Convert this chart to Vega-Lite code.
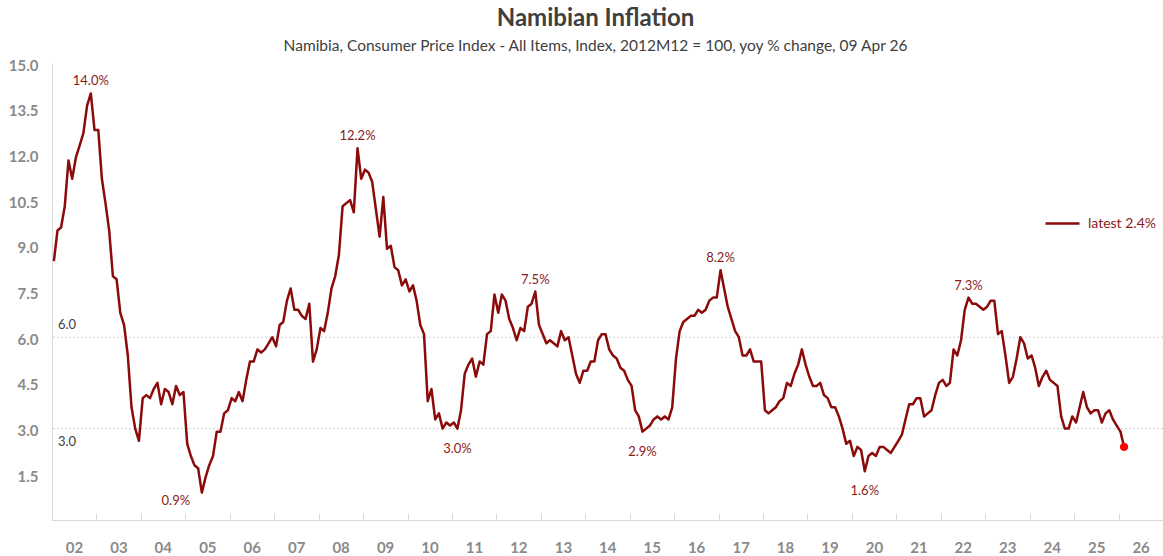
{
  "$schema": "https://vega.github.io/schema/vega-lite/v6.json",
  "width": 1111,
  "height": 457,
  "autosize": {"type": "none"},
  "padding": {"left": 52, "top": 63, "right": 0, "bottom": 36},
  "background": "white",
  "title": {
    "text": "Namibian Inflation",
    "subtitle": "Namibia, Consumer Price Index - All Items, Index, 2012M12 = 100, yoy % change, 09 Apr 26",
    "anchor": "middle",
    "dx": -12,
    "offset": 4,
    "font": "Lato",
    "fontSize": 24,
    "fontWeight": "bold",
    "color": "#404040",
    "subtitleFont": "Lato",
    "subtitleFontSize": 15.5,
    "subtitleColor": "#404040",
    "subtitlePadding": 8
  },
  "config": {
    "view": {"stroke": null},
    "font": "Lato",
    "axisX": {
      "format": "%y",
      "formatType": "utc",
      "title": null,
      "grid": false,
      "labelOffset": 22,
      "labelPadding": 27,
      "tickSize": -7,
      "tickColor": "#d9d9d9",
      "domainColor": "#d9d9d9",
      "labelFont": "Lato",
      "labelFontSize": 15,
      "labelFontWeight": "bold",
      "labelColor": "#8a8a8a",
      "labelOverlap": false,
      "labelFlush": false
    }
  },
  "datasets": {
    "cpi": [
      {"date": "2002-01", "value": 8.5}, {"date": "2002-02", "value": 9.5}, {"date": "2002-03", "value": 9.6}, {"date": "2002-04", "value": 10.3},
      {"date": "2002-05", "value": 11.8}, {"date": "2002-06", "value": 11.2}, {"date": "2002-07", "value": 11.9}, {"date": "2002-08", "value": 12.3},
      {"date": "2002-09", "value": 12.7}, {"date": "2002-10", "value": 13.6}, {"date": "2002-11", "value": 14.0}, {"date": "2002-12", "value": 12.8},
      {"date": "2003-01", "value": 12.8}, {"date": "2003-02", "value": 11.2}, {"date": "2003-03", "value": 10.4}, {"date": "2003-04", "value": 9.5},
      {"date": "2003-05", "value": 8.0}, {"date": "2003-06", "value": 7.9}, {"date": "2003-07", "value": 6.8}, {"date": "2003-08", "value": 6.4},
      {"date": "2003-09", "value": 5.4}, {"date": "2003-10", "value": 3.7}, {"date": "2003-11", "value": 3.0}, {"date": "2003-12", "value": 2.6},
      {"date": "2004-01", "value": 4.0}, {"date": "2004-02", "value": 4.1}, {"date": "2004-03", "value": 4.0}, {"date": "2004-04", "value": 4.3},
      {"date": "2004-05", "value": 4.5}, {"date": "2004-06", "value": 3.8}, {"date": "2004-07", "value": 4.3}, {"date": "2004-08", "value": 4.2},
      {"date": "2004-09", "value": 3.8}, {"date": "2004-10", "value": 4.4}, {"date": "2004-11", "value": 4.1}, {"date": "2004-12", "value": 4.2},
      {"date": "2005-01", "value": 2.5}, {"date": "2005-02", "value": 2.1}, {"date": "2005-03", "value": 1.8}, {"date": "2005-04", "value": 1.7},
      {"date": "2005-05", "value": 0.9}, {"date": "2005-06", "value": 1.4}, {"date": "2005-07", "value": 1.8}, {"date": "2005-08", "value": 2.1},
      {"date": "2005-09", "value": 2.9}, {"date": "2005-10", "value": 2.9}, {"date": "2005-11", "value": 3.5}, {"date": "2005-12", "value": 3.6},
      {"date": "2006-01", "value": 4.0}, {"date": "2006-02", "value": 3.9}, {"date": "2006-03", "value": 4.2}, {"date": "2006-04", "value": 3.9},
      {"date": "2006-05", "value": 4.6}, {"date": "2006-06", "value": 5.2}, {"date": "2006-07", "value": 5.2}, {"date": "2006-08", "value": 5.6},
      {"date": "2006-09", "value": 5.5}, {"date": "2006-10", "value": 5.6}, {"date": "2006-11", "value": 5.8}, {"date": "2006-12", "value": 6.0},
      {"date": "2007-01", "value": 5.7}, {"date": "2007-02", "value": 6.4}, {"date": "2007-03", "value": 6.5}, {"date": "2007-04", "value": 7.2},
      {"date": "2007-05", "value": 7.6}, {"date": "2007-06", "value": 6.9}, {"date": "2007-07", "value": 6.9}, {"date": "2007-08", "value": 6.7},
      {"date": "2007-09", "value": 6.6}, {"date": "2007-10", "value": 7.1}, {"date": "2007-11", "value": 5.2}, {"date": "2007-12", "value": 5.6},
      {"date": "2008-01", "value": 6.3}, {"date": "2008-02", "value": 6.2}, {"date": "2008-03", "value": 6.8}, {"date": "2008-04", "value": 7.6},
      {"date": "2008-05", "value": 8.0}, {"date": "2008-06", "value": 8.7}, {"date": "2008-07", "value": 10.3}, {"date": "2008-08", "value": 10.4},
      {"date": "2008-09", "value": 10.5}, {"date": "2008-10", "value": 10.1}, {"date": "2008-11", "value": 12.2}, {"date": "2008-12", "value": 11.2},
      {"date": "2009-01", "value": 11.5}, {"date": "2009-02", "value": 11.4}, {"date": "2009-03", "value": 11.1}, {"date": "2009-04", "value": 10.2},
      {"date": "2009-05", "value": 9.3}, {"date": "2009-06", "value": 10.6}, {"date": "2009-07", "value": 8.9}, {"date": "2009-08", "value": 9.0},
      {"date": "2009-09", "value": 8.3}, {"date": "2009-10", "value": 8.2}, {"date": "2009-11", "value": 7.7}, {"date": "2009-12", "value": 7.9},
      {"date": "2010-01", "value": 7.5}, {"date": "2010-02", "value": 7.7}, {"date": "2010-03", "value": 7.2}, {"date": "2010-04", "value": 6.4},
      {"date": "2010-05", "value": 6.1}, {"date": "2010-06", "value": 3.9}, {"date": "2010-07", "value": 4.3}, {"date": "2010-08", "value": 3.3},
      {"date": "2010-09", "value": 3.5}, {"date": "2010-10", "value": 3.0}, {"date": "2010-11", "value": 3.2}, {"date": "2010-12", "value": 3.1},
      {"date": "2011-01", "value": 3.2}, {"date": "2011-02", "value": 3.0}, {"date": "2011-03", "value": 3.6}, {"date": "2011-04", "value": 4.8},
      {"date": "2011-05", "value": 5.1}, {"date": "2011-06", "value": 5.3}, {"date": "2011-07", "value": 4.7}, {"date": "2011-08", "value": 5.2},
      {"date": "2011-09", "value": 5.1}, {"date": "2011-10", "value": 6.1}, {"date": "2011-11", "value": 6.2}, {"date": "2011-12", "value": 7.4},
      {"date": "2012-01", "value": 6.8}, {"date": "2012-02", "value": 7.4}, {"date": "2012-03", "value": 7.2}, {"date": "2012-04", "value": 6.6},
      {"date": "2012-05", "value": 6.3}, {"date": "2012-06", "value": 5.9}, {"date": "2012-07", "value": 6.3}, {"date": "2012-08", "value": 6.2},
      {"date": "2012-09", "value": 7.0}, {"date": "2012-10", "value": 7.1}, {"date": "2012-11", "value": 7.5}, {"date": "2012-12", "value": 6.4},
      {"date": "2013-01", "value": 6.1}, {"date": "2013-02", "value": 5.8}, {"date": "2013-03", "value": 5.9}, {"date": "2013-04", "value": 5.8},
      {"date": "2013-05", "value": 5.7}, {"date": "2013-06", "value": 6.2}, {"date": "2013-07", "value": 5.9}, {"date": "2013-08", "value": 6.0},
      {"date": "2013-09", "value": 5.4}, {"date": "2013-10", "value": 4.8}, {"date": "2013-11", "value": 4.5}, {"date": "2013-12", "value": 4.9},
      {"date": "2014-01", "value": 4.9}, {"date": "2014-02", "value": 5.2}, {"date": "2014-03", "value": 5.2}, {"date": "2014-04", "value": 5.9},
      {"date": "2014-05", "value": 6.1}, {"date": "2014-06", "value": 6.1}, {"date": "2014-07", "value": 5.6}, {"date": "2014-08", "value": 5.4},
      {"date": "2014-09", "value": 5.3}, {"date": "2014-10", "value": 5.0}, {"date": "2014-11", "value": 4.9}, {"date": "2014-12", "value": 4.6},
      {"date": "2015-01", "value": 4.4}, {"date": "2015-02", "value": 3.6}, {"date": "2015-03", "value": 3.4}, {"date": "2015-04", "value": 2.9},
      {"date": "2015-05", "value": 3.0}, {"date": "2015-06", "value": 3.1}, {"date": "2015-07", "value": 3.3}, {"date": "2015-08", "value": 3.4},
      {"date": "2015-09", "value": 3.3}, {"date": "2015-10", "value": 3.4}, {"date": "2015-11", "value": 3.3}, {"date": "2015-12", "value": 3.7},
      {"date": "2016-01", "value": 5.3}, {"date": "2016-02", "value": 6.2}, {"date": "2016-03", "value": 6.5}, {"date": "2016-04", "value": 6.6},
      {"date": "2016-05", "value": 6.7}, {"date": "2016-06", "value": 6.7}, {"date": "2016-07", "value": 6.9}, {"date": "2016-08", "value": 6.8},
      {"date": "2016-09", "value": 6.9}, {"date": "2016-10", "value": 7.2}, {"date": "2016-11", "value": 7.3}, {"date": "2016-12", "value": 7.3},
      {"date": "2017-01", "value": 8.2}, {"date": "2017-02", "value": 7.6}, {"date": "2017-03", "value": 7.0}, {"date": "2017-04", "value": 6.6},
      {"date": "2017-05", "value": 6.2}, {"date": "2017-06", "value": 6.0}, {"date": "2017-07", "value": 5.4}, {"date": "2017-08", "value": 5.4},
      {"date": "2017-09", "value": 5.6}, {"date": "2017-10", "value": 5.2}, {"date": "2017-11", "value": 5.2}, {"date": "2017-12", "value": 5.2},
      {"date": "2018-01", "value": 3.6}, {"date": "2018-02", "value": 3.5}, {"date": "2018-03", "value": 3.6}, {"date": "2018-04", "value": 3.7},
      {"date": "2018-05", "value": 3.9}, {"date": "2018-06", "value": 4.0}, {"date": "2018-07", "value": 4.5}, {"date": "2018-08", "value": 4.4},
      {"date": "2018-09", "value": 4.8}, {"date": "2018-10", "value": 5.1}, {"date": "2018-11", "value": 5.6}, {"date": "2018-12", "value": 5.1},
      {"date": "2019-01", "value": 4.7}, {"date": "2019-02", "value": 4.4}, {"date": "2019-03", "value": 4.4}, {"date": "2019-04", "value": 4.5},
      {"date": "2019-05", "value": 4.1}, {"date": "2019-06", "value": 4.0}, {"date": "2019-07", "value": 3.7}, {"date": "2019-08", "value": 3.7},
      {"date": "2019-09", "value": 3.4}, {"date": "2019-10", "value": 3.0}, {"date": "2019-11", "value": 2.5}, {"date": "2019-12", "value": 2.6},
      {"date": "2020-01", "value": 2.1}, {"date": "2020-02", "value": 2.4}, {"date": "2020-03", "value": 2.3}, {"date": "2020-04", "value": 1.6},
      {"date": "2020-05", "value": 2.1}, {"date": "2020-06", "value": 2.2}, {"date": "2020-07", "value": 2.1}, {"date": "2020-08", "value": 2.4},
      {"date": "2020-09", "value": 2.4}, {"date": "2020-10", "value": 2.3}, {"date": "2020-11", "value": 2.2}, {"date": "2020-12", "value": 2.4},
      {"date": "2021-01", "value": 2.6}, {"date": "2021-02", "value": 2.8}, {"date": "2021-03", "value": 3.3}, {"date": "2021-04", "value": 3.8},
      {"date": "2021-05", "value": 3.8}, {"date": "2021-06", "value": 4.0}, {"date": "2021-07", "value": 4.0}, {"date": "2021-08", "value": 3.4},
      {"date": "2021-09", "value": 3.5}, {"date": "2021-10", "value": 3.6}, {"date": "2021-11", "value": 4.1}, {"date": "2021-12", "value": 4.5},
      {"date": "2022-01", "value": 4.6}, {"date": "2022-02", "value": 4.4}, {"date": "2022-03", "value": 4.5}, {"date": "2022-04", "value": 5.6},
      {"date": "2022-05", "value": 5.4}, {"date": "2022-06", "value": 5.9}, {"date": "2022-07", "value": 6.9}, {"date": "2022-08", "value": 7.3},
      {"date": "2022-09", "value": 7.1}, {"date": "2022-10", "value": 7.1}, {"date": "2022-11", "value": 7.0}, {"date": "2022-12", "value": 6.9},
      {"date": "2023-01", "value": 7.0}, {"date": "2023-02", "value": 7.2}, {"date": "2023-03", "value": 7.2}, {"date": "2023-04", "value": 6.1},
      {"date": "2023-05", "value": 6.2}, {"date": "2023-06", "value": 5.4}, {"date": "2023-07", "value": 4.5}, {"date": "2023-08", "value": 4.7},
      {"date": "2023-09", "value": 5.3}, {"date": "2023-10", "value": 6.0}, {"date": "2023-11", "value": 5.8}, {"date": "2023-12", "value": 5.3},
      {"date": "2024-01", "value": 5.4}, {"date": "2024-02", "value": 5.0}, {"date": "2024-03", "value": 4.4}, {"date": "2024-04", "value": 4.7},
      {"date": "2024-05", "value": 4.9}, {"date": "2024-06", "value": 4.6}, {"date": "2024-07", "value": 4.5}, {"date": "2024-08", "value": 4.4},
      {"date": "2024-09", "value": 3.4}, {"date": "2024-10", "value": 3.0}, {"date": "2024-11", "value": 3.0}, {"date": "2024-12", "value": 3.4},
      {"date": "2025-01", "value": 3.2}, {"date": "2025-02", "value": 3.7}, {"date": "2025-03", "value": 4.2}, {"date": "2025-04", "value": 3.7},
      {"date": "2025-05", "value": 3.5}, {"date": "2025-06", "value": 3.6}, {"date": "2025-07", "value": 3.6}, {"date": "2025-08", "value": 3.2},
      {"date": "2025-09", "value": 3.5}, {"date": "2025-10", "value": 3.6}, {"date": "2025-11", "value": 3.3}, {"date": "2025-12", "value": 3.1},
      {"date": "2026-01", "value": 2.9}, {"date": "2026-02", "value": 2.4}
    ],
    "extremes": [
      {"date": "2002-11", "value": 14.0, "label": "14.0%", "kind": "peak"},
      {"date": "2008-11", "value": 12.2, "label": "12.2%", "kind": "peak"},
      {"date": "2012-11", "value": 7.5, "label": "7.5%", "kind": "peak"},
      {"date": "2017-01", "value": 8.2, "label": "8.2%", "kind": "peak"},
      {"date": "2022-08", "value": 7.3, "label": "7.3%", "kind": "peak"},
      {"date": "2005-05", "value": 0.9, "label": "0.9%", "kind": "low"},
      {"date": "2011-02", "value": 3.0, "label": "3.0%", "kind": "trough"},
      {"date": "2015-04", "value": 2.9, "label": "2.9%", "kind": "trough"},
      {"date": "2020-04", "value": 1.6, "label": "1.6%", "kind": "trough"}
    ],
    "refs": [
      {"value": 6, "label": "6.0", "side": "upper"},
      {"value": 3, "label": "3.0", "side": "lower"}
    ]
  },
  "layer": [
    {
      "data": {"name": "refs"},
      "mark": {"type": "rule", "color": "#cfcfcf", "strokeWidth": 1, "strokeDash": [2, 2]},
      "encoding": {
        "y": {"field": "value", "type": "quantitative", "scale": {"domain": [0, 15], "nice": false, "zero": true},
          "axis": {
            "values": [1.5, 3, 4.5, 6, 7.5, 9, 10.5, 12, 13.5, 15],
            "format": ".1f",
            "title": null,
            "grid": false,
            "ticks": false,
            "labelPadding": 14,
            "labelOffset": 2,
            "labelFont": "Lato",
            "labelFontSize": 15,
            "labelFontWeight": "bold",
            "labelColor": "#8a8a8a",
            "domainColor": "#d9d9d9"
          }}
      }
    },
    {
      "data": {"name": "cpi"},
      "mark": {"type": "line", "strokeWidth": 2.5, "strokeJoin": "round"},
      "encoding": {
        "x": {
          "field": "date", "type": "temporal", "timeUnit": "utcyearmonth", "bandPosition": 0.5,
          "scale": {"type": "utc", "domain": [{"year": 2002, "month": 1, "date": 1, "utc": true}, {"year": 2027, "month": 1, "date": 1, "utc": true}]},
          "axis": {
            "values": [
              {"year": 2002, "utc": true}, {"year": 2003, "utc": true}, {"year": 2004, "utc": true}, {"year": 2005, "utc": true}, {"year": 2006, "utc": true},
              {"year": 2007, "utc": true}, {"year": 2008, "utc": true}, {"year": 2009, "utc": true}, {"year": 2010, "utc": true}, {"year": 2011, "utc": true},
              {"year": 2012, "utc": true}, {"year": 2013, "utc": true}, {"year": 2014, "utc": true}, {"year": 2015, "utc": true}, {"year": 2016, "utc": true},
              {"year": 2017, "utc": true}, {"year": 2018, "utc": true}, {"year": 2019, "utc": true}, {"year": 2020, "utc": true}, {"year": 2021, "utc": true},
              {"year": 2022, "utc": true}, {"year": 2023, "utc": true}, {"year": 2024, "utc": true}, {"year": 2025, "utc": true}, {"year": 2026, "utc": true}
            ],
            "format": "%y",
            "formatType": "utc"
          }
        },
        "y": {"field": "value", "type": "quantitative"},
        "color": {
          "datum": "latest 2.4%", "type": "nominal",
          "scale": {"range": ["#8B0A0A"]},
          "legend": {
            "title": null,
            "orient": "none",
            "legendX": 992,
            "legendY": 142,
            "padding": 0,
            "symbolType": "stroke",
            "symbolSize": 1156,
            "symbolStrokeWidth": 2.5,
            "labelFont": "Lato",
            "labelFontSize": 14,
            "labelColor": "#8B1A1A",
            "labelOffset": 7
          }
        }
      }
    },
    {
      "data": {"name": "refs"},
      "transform": [{"filter": "datum.side === 'upper'"}],
      "mark": {"type": "text", "align": "left", "baseline": "middle", "dx": 6, "dy": -12, "font": "Lato", "fontSize": 13, "color": "#404040"},
      "encoding": {
        "x": {"datum": {"year": 2002, "month": 1, "date": 1, "utc": true}, "type": "temporal", "axis": {"format": "%y", "formatType": "utc"}},
        "y": {"field": "value", "type": "quantitative"},
        "text": {"field": "label"}
      }
    },
    {
      "data": {"name": "refs"},
      "transform": [{"filter": "datum.side === 'lower'"}],
      "mark": {"type": "text", "align": "left", "baseline": "middle", "dx": 6, "dy": 13, "font": "Lato", "fontSize": 13, "color": "#404040"},
      "encoding": {
        "x": {"datum": {"year": 2002, "month": 1, "date": 1, "utc": true}, "type": "temporal", "axis": {"format": "%y", "formatType": "utc"}},
        "y": {"field": "value", "type": "quantitative"},
        "text": {"field": "label"}
      }
    },
    {
      "data": {"name": "cpi"},
      "transform": [{"filter": {"field": "date", "timeUnit": "utcyearmonth", "equal": {"year": 2026, "month": 2, "utc": true}}}],
      "mark": {"type": "circle", "color": "#FF0000", "size": 70, "opacity": 1},
      "encoding": {
        "x": {"field": "date", "type": "temporal", "timeUnit": "utcyearmonth", "bandPosition": 0.5, "axis": {"format": "%y", "formatType": "utc"}},
        "y": {"field": "value", "type": "quantitative"}
      }
    },
    {
      "data": {"name": "extremes"},
      "transform": [{"filter": "datum.kind === 'peak'"}],
      "mark": {"type": "text", "baseline": "middle", "dy": -12, "font": "Lato", "fontSize": 13, "color": "#8B1A1A"},
      "encoding": {
        "x": {"field": "date", "type": "temporal", "timeUnit": "utcyearmonth", "bandPosition": 0.5, "axis": {"format": "%y", "formatType": "utc"}},
        "y": {"field": "value", "type": "quantitative"},
        "text": {"field": "label"}
      }
    },
    {
      "data": {"name": "extremes"},
      "transform": [{"filter": "datum.kind === 'trough'"}],
      "mark": {"type": "text", "baseline": "middle", "dy": 20, "font": "Lato", "fontSize": 13, "color": "#8B1A1A"},
      "encoding": {
        "x": {"field": "date", "type": "temporal", "timeUnit": "utcyearmonth", "bandPosition": 0.5, "axis": {"format": "%y", "formatType": "utc"}},
        "y": {"field": "value", "type": "quantitative"},
        "text": {"field": "label"}
      }
    },
    {
      "data": {"name": "extremes"},
      "transform": [{"filter": "datum.kind === 'low'"}],
      "mark": {"type": "text", "baseline": "middle", "dx": -26, "dy": 8, "font": "Lato", "fontSize": 13, "color": "#8B1A1A"},
      "encoding": {
        "x": {"field": "date", "type": "temporal", "timeUnit": "utcyearmonth", "bandPosition": 0.5, "axis": {"format": "%y", "formatType": "utc"}},
        "y": {"field": "value", "type": "quantitative"},
        "text": {"field": "label"}
      }
    }
  ]
}
